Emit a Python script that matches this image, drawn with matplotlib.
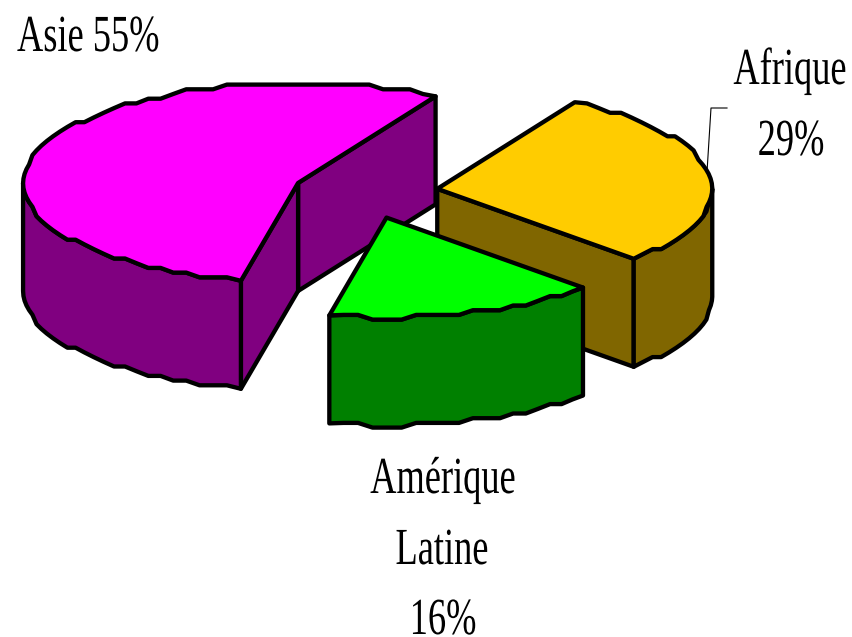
#!/usr/bin/env python

import numpy as np
import matplotlib.pyplot as plt
import matplotlib.patheffects as pe
from matplotlib.transforms import Affine2D

plt.rcParams["font.family"] = ["Liberation Serif", "DejaVu Serif"]

# data
regions = ["Asie", "Amérique Latine", "Afrique"]
shares = [55, 16, 29]
top_colors = ["#FF00FF", "#00FF00", "#FFCC00"]
side_colors = ["#800080", "#008000", "#806600"]

# pie layout, in picture pixels
START = 60  # degrees, counter clockwise
CX, CY = 365.6, 192.4
RX, RY = 275, 100
DEPTH = 108
EXPLODE = 0.263
LW = 3.1
GRID = 4.7  # the original outline is snapped to a coarse grid


class Stretch(pe.AbstractPathEffect):
    # text in the reference is stretched, make it taller from its baseline
    def __init__(self, sy, y0, shift=0):
        super().__init__()
        self.sy = sy
        self.y0 = y0
        self.shift = shift

    def draw_path(self, renderer, gc, tpath, affine, rgbFace=None):
        stretch = Affine2D().translate(0, -self.y0).scale(1, self.sy).translate(0, self.y0 - self.shift)
        renderer.draw_path(gc, tpath, affine + stretch, rgbFace)


def arc(cx, cy, a0, a1):
    n = max(2, int(round(abs(a1 - a0) / 3.0)) + 1)
    t = np.radians(np.linspace(a0, a1, n))
    x = cx + RX * np.cos(t)
    y = cy - RY * np.sin(t)
    y[1:-1] = np.round(y[1:-1] / GRID) * GRID
    return np.column_stack([x, y])


def draw_face(ax, pts, color):
    ax.fill(pts[:, 0], pts[:, 1], facecolor=color, edgecolor="black", linewidth=LW, joinstyle="round")


def wall(ax, upper, color):
    lower = upper[::-1] + [0, DEPTH]
    draw_face(ax, np.vstack([upper, lower]), color)


def draw_slice(ax, a0, a1, top, side):
    mid = np.radians((a0 + a1) / 2)
    cx = CX + EXPLODE * RX * np.cos(mid)
    cy = CY - EXPLODE * RY * np.sin(mid)
    apex = np.array([[cx, cy]])
    rim = arc(cx, cy, a0, a1)

    # flat cut faces, only those turned to the viewer
    if np.cos(np.radians(a0)) > 0:
        wall(ax, np.vstack([apex, rim[:1]]), side)
    if np.cos(np.radians(a1)) < 0:
        wall(ax, np.vstack([apex, rim[-1:]]), side)

    # outer wall, only the front part of the rim
    lo, hi = max(a0, 180), min(a1, 360)
    if hi > lo:
        wall(ax, arc(cx, cy, lo, hi), side)

    draw_face(ax, np.vstack([apex, rim]), top)


def label(ax, x, y, s, ha="center", shift=0):
    y0 = ax.transData.transform((x, y))[1]
    ax.text(x, y, s, ha=ha, va="baseline", fontsize=26.2, color="black",
            path_effects=[Stretch(1.43, y0, shift)])


fig = plt.figure(figsize=(8.52, 6.37), dpi=100)
ax = fig.add_axes([0, 0, 1, 1])
ax.set_xlim(0, 852)
ax.set_ylim(637, 0)
ax.axis("off")

# angles from the shares, drawn back to front
spans = {}
a = START
for name, share, top, side in zip(regions, shares, top_colors, side_colors):
    spans[name] = (a, a + share * 3.6, top, side)
    a += share * 3.6

for name in ["Asie", "Afrique", "Amérique Latine"]:
    draw_slice(ax, *spans[name])

# leader line of Afrique
ax.plot([707, 711, 727], [172, 108, 108], color="black", linewidth=0.8)

label(ax, 17, 51, f"{regions[0]} {shares[0]}%", ha="left")
label(ax, 790, 84, regions[2])
label(ax, 791, 155, f"{shares[2]}%")
label(ax, 443, 493, regions[1].split()[0])
label(ax, 442, 564, regions[1].split()[1])
# anchored higher so its box stays inside the figure, glyphs land on baseline 634
label(ax, 443, 628, f"{shares[1]}%", shift=6)

fig.savefig("out.png", dpi=100)
